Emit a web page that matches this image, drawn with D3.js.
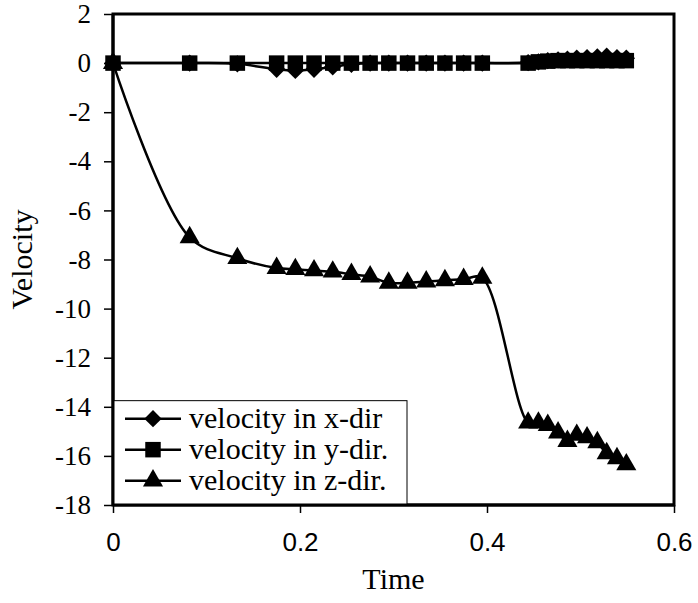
<!DOCTYPE html>
<html>
<head>
<meta charset="utf-8">
<script src="https://cdn.jsdelivr.net/npm/d3@7"></script>
<style>
  body { margin: 0; background: #fff; }
  svg { display: block; }
</style>
</head>
<body>
<div id="chart"></div>
<script>
// Time samples shared by all three series
const times = [0, 0.082, 0.133, 0.175, 0.195, 0.215, 0.235, 0.255, 0.275, 0.295, 0.315, 0.335, 0.355, 0.375, 0.395,
               0.444, 0.455, 0.465, 0.476, 0.486, 0.496, 0.507, 0.518, 0.528, 0.539, 0.549];
const velX = [0, 0, -0.03, -0.25, -0.3, -0.25, -0.15, -0.05, 0, 0, 0, 0, 0, 0, 0,
              0.02, 0.05, 0.1, 0.13, 0.16, 0.2, 0.22, 0.25, 0.28, 0.22, 0.2];
const velY = [0, 0, 0, 0, 0, 0, 0, 0, 0, 0, 0, 0, 0, 0, 0,
              0, 0.05, 0.08, 0.1, 0.1, 0.1, 0.1, 0.1, 0.1, 0.1, 0.1];
const velZ = [0, -7.1, -7.95, -8.35, -8.4, -8.45, -8.5, -8.6, -8.7, -8.95, -8.95, -8.9, -8.85, -8.8, -8.75,
              -14.65, -14.65, -14.75, -15.05, -15.4, -15.15, -15.25, -15.45, -15.9, -16.1, -16.35];
const seriesNames = ["velocity in x-dir", "velocity in y-dir.", "velocity in z-dir."];
const xTicks = [0, 0.2, 0.4, 0.6];
const yTicks = [2, 0, -2, -4, -6, -8, -10, -12, -14, -16, -18];

// marker shapes: diamond = square turned 45 degrees
const markers = [
    { type: d3.symbolSquare, size: 150, rotate: 45 },
    { type: d3.symbolSquare, size: 240, rotate: 0 },
    { type: d3.symbolTriangle, size: 175, rotate: 0 }
];

const width = 698, height = 603;
const margin = { top: 14, right: 24, bottom: 98, left: 113 };
const innerWidth = width - margin.left - margin.right;
const innerHeight = height - margin.top - margin.bottom;

const svg = d3.select('#chart').append('svg')
    .attr('width', width)
    .attr('height', height);
const g = svg.append('g')
    .attr('transform', `translate(${margin.left},${margin.top})`);

const xScale = d3.scaleLinear().domain([0, 0.6]).range([0, innerWidth]);
const yScale = d3.scaleLinear().domain([-18, 2]).range([innerHeight, 0]);

// Axes
const xAxis = g.append('g')
    .attr('transform', `translate(0,${innerHeight})`)
    .call(d3.axisBottom(xScale).tickValues(xTicks).tickSize(8).tickPadding(20)
        .tickFormat(d => d === 0 ? '0' : d3.format('.1f')(d)));
xAxis.select('.domain').remove();
xAxis.selectAll('line').attr('stroke', '#000').attr('stroke-width', 1.5);
xAxis.selectAll('text')
    .attr('font-family', '"Liberation Sans", Arial, sans-serif')
    .attr('font-size', 26)
    .attr('fill', '#000');

const yAxis = g.append('g')
    .call(d3.axisLeft(yScale).tickValues(yTicks).tickSize(9).tickPadding(13)
        .tickFormat(d => String(d)));
yAxis.select('.domain').remove();
yAxis.selectAll('line').attr('stroke', '#000').attr('stroke-width', 1.5);
yAxis.selectAll('text')
    .attr('font-family', '"Liberation Serif", "Times New Roman", serif')
    .attr('font-size', 27)
    .attr('fill', '#000');

// Plot frame
g.append('rect')
    .attr('x', 0).attr('y', 0)
    .attr('width', innerWidth).attr('height', innerHeight)
    .attr('fill', 'none')
    .attr('stroke', '#000')
    .attr('stroke-width', 3);

// Series
const allSeries = [velX, velY, velZ];
const line = d3.line()
    .x((d, i) => xScale(times[i]))
    .y(d => yScale(d))
    .curve(d3.curveCatmullRom.alpha(0.5));

allSeries.forEach(vals => {
    g.append('path')
        .datum(vals)
        .attr('d', line)
        .attr('fill', 'none')
        .attr('stroke', '#000')
        .attr('stroke-width', 2.5);
});
allSeries.forEach((vals, s) => {
    const m = markers[s];
    const sym = d3.symbol().type(m.type).size(m.size);
    g.selectAll(null)
        .data(vals)
        .join('path')
        .attr('d', sym)
        .attr('transform', (d, i) => `translate(${xScale(times[i])},${yScale(d)}) rotate(${m.rotate})`)
        .attr('fill', '#000');
});

// Legend
const legend = g.append('g');
const legendTop = yScale(-13.75);
legend.append('rect')
    .attr('x', 0).attr('y', legendTop)
    .attr('width', 294).attr('height', innerHeight - legendTop)
    .attr('fill', '#fff')
    .attr('stroke', '#000')
    .attr('stroke-width', 1);
seriesNames.forEach((name, s) => {
    const cy = legendTop + 18 + s * 31;
    const m = markers[s];
    legend.append('line')
        .attr('x1', 12).attr('x2', 68)
        .attr('y1', cy).attr('y2', cy)
        .attr('stroke', '#000').attr('stroke-width', 2.5);
    legend.append('path')
        .attr('d', d3.symbol().type(m.type).size(m.size))
        .attr('transform', `translate(40,${cy}) rotate(${m.rotate})`)
        .attr('fill', '#000');
    legend.append('text')
        .attr('x', 76).attr('y', cy + 9)
        .attr('font-family', '"Liberation Serif", "Times New Roman", serif')
        .attr('font-size', 30)
        .text(name);
});
// Redraw frame edges over the legend
g.append('line').attr('x1', 0).attr('x2', 0).attr('y1', 0).attr('y2', innerHeight)
    .attr('stroke', '#000').attr('stroke-width', 3);
g.append('line').attr('x1', 0).attr('x2', innerWidth).attr('y1', innerHeight).attr('y2', innerHeight)
    .attr('stroke', '#000').attr('stroke-width', 3);

// Axis titles
g.append('text')
    .attr('x', innerWidth / 2)
    .attr('y', innerHeight + 84)
    .attr('text-anchor', 'middle')
    .attr('font-family', '"Liberation Serif", "Times New Roman", serif')
    .attr('font-size', 30)
    .text('Time');

g.append('text')
    .attr('transform', 'rotate(-90)')
    .attr('x', -innerHeight / 2)
    .attr('y', -margin.left + 32)
    .attr('text-anchor', 'middle')
    .attr('font-family', '"Liberation Serif", "Times New Roman", serif')
    .attr('font-size', 30)
    .text('Velocity');
</script>
</body>
</html>
